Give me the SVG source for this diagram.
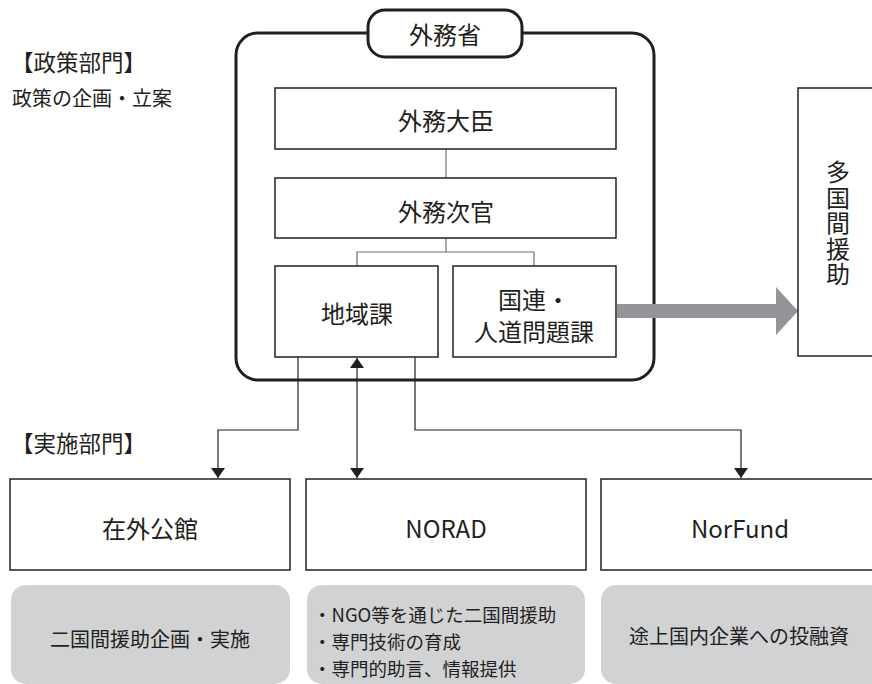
<svg xmlns="http://www.w3.org/2000/svg" width="872" height="684" viewBox="0 0 872 684">
<style>
text{font-family:"Noto Sans CJK JP","Noto Sans",sans-serif;fill:#231f20;dominant-baseline:central}
.c{text-anchor:middle}
.box{fill:#fff;stroke:#231f20;stroke-width:1.5}
.gbox{fill:#d1d2d4;stroke:none}
.ln{fill:none;stroke:#231f20;stroke-width:1.2}
.ln2{fill:none;stroke:#6d6e71;stroke-width:1.2}
.f24{font-size:24px}
.f22{font-size:22.5px}
.f20{font-size:20px}
.f18{font-size:18.5px}
</style>
<defs>
<marker id="ah" viewBox="0 0 10 16" refX="10" refY="8" markerWidth="10" markerHeight="16" markerUnits="userSpaceOnUse" orient="auto-start-reverse">
<path d="M0,1 L10,8 L0,15 Z" fill="#231f20"/>
</marker>
</defs>

<g id="labels">
<text x="11" y="61" class="f22">【政策部門】</text>
<text x="12" y="97" class="f20">政策の企画・立案</text>
<text x="11" y="442" class="f22">【実施部門】</text>
</g>

<g id="mofa">
<rect x="236" y="33" width="418" height="347" rx="22" fill="#fff" stroke="#231f20" stroke-width="3"/>
<rect x="368" y="10" width="154" height="47" rx="17" fill="#fff" stroke="#231f20" stroke-width="3"/>
<text x="445" y="33" class="c f24">外務省</text>
</g>

<g id="connectors">
<path class="ln2" d="M446,149 V178"/>
<path class="ln2" d="M446,238 V252 M357,266 V252 H534 V266"/>
<path class="ln" d="M298,357 V430 H218 V478" marker-end="url(#ah)"/>
<path class="ln" d="M415,357 V430 H741 V478" marker-end="url(#ah)"/>
<path class="ln" d="M357,358 V478" marker-start="url(#ah)" marker-end="url(#ah)"/>
<path d="M617,304 H776 V287 L798,311 L776,335 V318 H617 Z" fill="#939598"/>
</g>

<g id="minister">
<rect class="box" x="275" y="88" width="341" height="61"/>
<text x="446" y="119" class="c f24">外務大臣</text>
</g>
<g id="viceminister">
<rect class="box" x="275" y="178" width="341" height="60"/>
<text x="446" y="210" class="c f24">外務次官</text>
</g>
<g id="regional">
<rect class="box" x="275" y="266" width="163" height="91"/>
<text x="357" y="312" class="c f24">地域課</text>
</g>
<g id="un">
<rect class="box" x="453" y="266" width="163" height="91"/>
<text x="534" y="298" class="c f24">国連・</text>
<text x="534" y="330" class="c f24">人道問題課</text>
</g>
<g id="multilateral">
<rect class="box" x="798" y="88" width="90" height="268"/>
<text x="838" y="224" class="c f24" style="writing-mode:vertical-rl;letter-spacing:1.5px;dominant-baseline:central">多国間援助</text>
</g>

<g id="embassy">
<rect class="box" x="10" y="479" width="280" height="91"/>
<text x="150" y="527" class="c f24">在外公館</text>
</g>
<g id="norad">
<rect class="box" x="306" y="479" width="280" height="91"/>
<text x="446" y="527" class="c f24">NORAD</text>
</g>
<g id="norfund">
<rect class="box" x="601" y="479" width="290" height="91"/>
<text x="740" y="527" class="c f24">NorFund</text>
</g>

<g id="desc1">
<rect class="gbox" x="11" y="585" width="279" height="99" rx="15"/>
<text x="150" y="638" class="c f20">二国間援助企画・実施</text>
</g>
<g id="desc2">
<rect class="gbox" x="307" y="585" width="278" height="99" rx="15"/>
<text x="313" y="614" class="f18">・NGO等を通じた二国間援助</text>
<text x="313" y="641" class="f18">・専門技術の育成</text>
<text x="313" y="668" class="f18">・専門的助言、情報提供</text>
</g>
<g id="desc3">
<rect class="gbox" x="601" y="585" width="290" height="99" rx="15"/>
<text x="739" y="635" class="c f20">途上国内企業への投融資</text>
</g>
</svg>
